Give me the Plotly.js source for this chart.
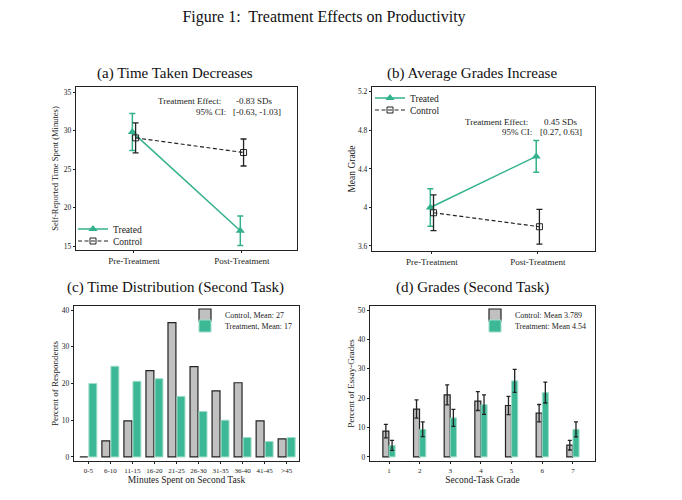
<!DOCTYPE html>
<html>
<head>
<meta charset="utf-8">
<script src="https://cdn.plot.ly/plotly-3.0.1.min.js"></script>
<style>
  html, body { margin: 0; padding: 0; background: #fff; }
  #chart { width: 682px; height: 500px; }
</style>
</head>
<body>
<div id="chart"></div>
<script>
// (a) time taken, (b) mean grade
var phases = ['Pre-Treatment', 'Post-Treatment'];
var timeTreated = [29.8, 17.0];
var timeTreatedErr = [2.4, 1.9];
var timeControl = [29.05, 27.15];
var timeControlErr = [1.95, 1.75];
var gradeTreated = [4.0, 4.53];
var gradeTreatedErr = [0.195, 0.165];
var gradeControl = [3.945, 3.80];
var gradeControlErr = [0.185, 0.18];

// (c) time distribution
var timeBins = ['0-5', '6-10', '11-15', '16-20', '21-25', '26-30', '31-35', '36-40', '41-45', '>45'];
var distControl = [0, 4.4, 9.8, 23.5, 36.6, 24.6, 18.0, 20.2, 9.8, 4.9];
var distTreated = [20.0, 24.7, 20.6, 21.3, 16.5, 12.4, 10.0, 5.3, 4.2, 5.3];

// (d) grades
var grades = [1, 2, 3, 4, 5, 6, 7];
var gradeDistControl = [8.8, 16.3, 21.1, 19.0, 17.5, 14.9, 4.0];
var gradeDistControlErr = [2.3, 3.1, 3.4, 3.2, 3.1, 2.95, 1.65];
var gradeDistTreated = [3.9, 9.4, 13.3, 17.8, 25.9, 21.9, 9.4];
var gradeDistTreatedErr = [1.7, 2.5, 2.9, 3.3, 3.9, 3.55, 2.55];

var teal = '#33b18d';
var tealFill = '#3db896';
var grayFill = '#c0c0c0';
var serif = 'Liberation Serif, Times New Roman, serif';

function px(x) { return x / 682; }
function py(y) { return 1 - y / 500; }

var phasePos = phases.map(function (p, i) { return i; });
var dodge = 0.015;

var traces = [
  // (a)
  {
    type: 'scatter', mode: 'lines+markers', name: 'Treated',
    x: phasePos.map(function (p) { return p - dodge; }), y: timeTreated,
    error_y: { type: 'data', array: timeTreatedErr, color: teal, thickness: 1.5, width: 3 },
    line: { color: teal, width: 1.5 },
    marker: { symbol: 'triangle-up', size: 8, color: teal },
    xaxis: 'x', yaxis: 'y', legend: 'legend'
  },
  {
    type: 'scatter', mode: 'lines+markers', name: 'Control',
    x: phasePos.map(function (p) { return p + dodge; }), y: timeControl,
    error_y: { type: 'data', array: timeControlErr, color: '#222', thickness: 1.3, width: 3 },
    line: { color: '#222', width: 1.2, dash: '4px,2.5px' },
    marker: { symbol: 'square-open', size: 6, color: '#222', line: { width: 1 } },
    xaxis: 'x', yaxis: 'y', legend: 'legend2'
  },
  // (b)
  {
    type: 'scatter', mode: 'lines+markers', name: 'Treated',
    x: phasePos.map(function (p) { return p - dodge; }), y: gradeTreated,
    error_y: { type: 'data', array: gradeTreatedErr, color: teal, thickness: 1.5, width: 3 },
    line: { color: teal, width: 1.5 },
    marker: { symbol: 'triangle-up', size: 8, color: teal },
    xaxis: 'x2', yaxis: 'y2', legend: 'legend3'
  },
  {
    type: 'scatter', mode: 'lines+markers', name: 'Control',
    x: phasePos.map(function (p) { return p + dodge; }), y: gradeControl,
    error_y: { type: 'data', array: gradeControlErr, color: '#222', thickness: 1.3, width: 3 },
    line: { color: '#222', width: 1.2, dash: '4px,2.5px' },
    marker: { symbol: 'square-open', size: 6, color: '#222', line: { width: 1 } },
    xaxis: 'x2', yaxis: 'y2', legend: 'legend4'
  },
  // (c)
  {
    type: 'bar', name: 'Control, Mean: 27', x: timeBins, y: distControl,
    offset: -0.385, width: 0.36,
    marker: { color: grayFill, line: { color: '#222', width: 1.2 } },
    xaxis: 'x3', yaxis: 'y3', legend: 'legend5'
  },
  {
    type: 'bar', name: 'Treatment, Mean: 17', x: timeBins, y: distTreated,
    offset: 0.025, width: 0.36,
    marker: { color: tealFill, line: { color: '#9fdcc9', width: 1 } },
    xaxis: 'x3', yaxis: 'y3', legend: 'legend6'
  },
  // (d)
  {
    type: 'bar', name: 'Control: Mean 3.789', x: grades, y: gradeDistControl,
    offset: -0.2, width: 0.195,
    error_y: { type: 'data', array: gradeDistControlErr, color: '#222', thickness: 1.3, width: 2 },
    marker: { color: grayFill, line: { color: '#222', width: 1.2 } },
    xaxis: 'x4', yaxis: 'y4', legend: 'legend7'
  },
  {
    type: 'bar', name: 'Treatment: Mean 4.54', x: grades, y: gradeDistTreated,
    offset: 0, width: 0.2,
    error_y: { type: 'data', array: gradeDistTreatedErr, color: '#222', thickness: 1.3, width: 2 },
    marker: { color: tealFill, line: { color: '#9fdcc9', width: 1 } },
    xaxis: 'x4', yaxis: 'y4', legend: 'legend8'
  }
];

function axis(extra) {
  var a = {
    showline: true, mirror: true, linecolor: '#222', linewidth: 1.2,
    ticks: 'outside', ticklen: 2, tickwidth: 1, tickcolor: '#222',
    showgrid: false, zeroline: false, fixedrange: true,
    tickfont: { family: serif, size: 7.5, color: '#222' }
  };
  for (var k in extra) { a[k] = extra[k]; }
  return a;
}

function legendAt(x, y, size) {
  return {
    x: px(x), y: py(y), xanchor: 'left', yanchor: 'middle',
    bgcolor: 'rgba(0,0,0,0)', borderwidth: 0, itemwidth: 30,
    font: { family: serif, size: size, color: '#222' }
  };
}

function note(text, x, y, anchor) {
  return {
    text: text, xref: 'paper', yref: 'paper', x: px(x), y: py(y),
    xanchor: anchor, yanchor: 'middle', showarrow: false,
    font: { family: serif, size: 9, color: '#222' }
  };
}

function subtitle(text, x, y) {
  return {
    text: text, xref: 'paper', yref: 'paper', x: px(x), y: py(y),
    xanchor: 'center', yanchor: 'middle', showarrow: false,
    font: { family: serif, size: 15, color: '#111' }
  };
}

var layout = {
  width: 682, height: 500,
  margin: { l: 0, r: 0, t: 0, b: 0 },
  paper_bgcolor: '#fff', plot_bgcolor: '#fff',
  barmode: 'overlay',
  showlegend: true,
  font: { family: serif, color: '#222' },
  title: {
    text: 'Figure 1:  Treatment Effects on Productivity',
    x: px(324), y: py(16), xanchor: 'center', yanchor: 'middle',
    font: { family: serif, size: 16, color: '#111' }
  },
  xaxis: axis({
    domain: [px(76), px(297)], anchor: 'y', range: [-0.537, 1.51],
    tickvals: phasePos, ticktext: phases, tickfont: { family: serif, size: 9, color: '#222' }
  }),
  yaxis: axis({
    domain: [py(250), py(87)], anchor: 'x', range: [14.5, 35.65], dtick: 5,
    title: { text: 'Self-Reported Time Spent (Minutes)', font: { family: serif, size: 8.5 }, standoff: 3 }
  }),
  xaxis2: axis({
    domain: [px(372), px(595)], anchor: 'y2', range: [-0.566, 1.54],
    tickvals: phasePos, ticktext: phases, tickfont: { family: serif, size: 9, color: '#222' }
  }),
  yaxis2: axis({
    domain: [py(251), py(87)], anchor: 'x2', range: [3.548, 5.25],
    tickvals: [3.6, 4, 4.4, 4.8, 5.2], ticktext: ['3.6', '4', '4.4', '4.8', '5.2'],
    title: { text: 'Mean Grade', font: { family: serif, size: 9.5 }, standoff: 0 }
  }),
  xaxis3: axis({
    domain: [px(74), px(299)], anchor: 'y3', range: [-0.65, 9.56], type: 'category',
    tickfont: { family: serif, size: 7, color: '#222' },
    title: { text: 'Minutes Spent on Second Task', font: { family: serif, size: 9.5 }, standoff: 2 }
  }),
  yaxis3: axis({
    domain: [py(461), py(306)], anchor: 'x3', range: [-1.1, 41.1], dtick: 10,
    title: { text: 'Percent of Respondents', font: { family: serif, size: 9 }, standoff: 1 }
  }),
  xaxis4: axis({
    domain: [px(370), px(595)], anchor: 'y4', range: [0.38, 7.72], dtick: 1,
    tickfont: { family: serif, size: 7, color: '#222' },
    title: { text: 'Second-Task Grade', font: { family: serif, size: 9.5 }, standoff: 2 }
  }),
  yaxis4: axis({
    domain: [py(461), py(306)], anchor: 'x4', range: [-1.4, 51.4], dtick: 10,
    title: { text: 'Percent of Essay-Grades', font: { family: serif, size: 9 }, standoff: 1 }
  }),
  legend: legendAt(73, 229, 9.5),
  legend2: legendAt(73, 241, 9.5),
  legend3: legendAt(370, 98, 9.5),
  legend4: legendAt(370, 110, 9.5),
  legend5: legendAt(185, 315, 8),
  legend6: legendAt(185, 326, 8),
  legend7: legendAt(475, 315, 8),
  legend8: legendAt(475, 326, 8),
  annotations: [
    subtitle('(a) Time Taken Decreases', 175, 73),
    subtitle('(b) Average Grades Increase', 472, 73),
    subtitle('(c) Time Distribution (Second Task)', 175, 287),
    subtitle('(d) Grades (Second Task)', 472, 287),
    note('Treatment Effect:', 223, 101, 'right'),
    note('-0.83 SDs', 234, 101, 'left'),
    note('95% CI:', 228, 112, 'right'),
    note('[-0.63, -1.03]', 231, 112, 'left'),
    note('Treatment Effect:', 530, 122, 'right'),
    note('0.45 SDs', 542, 122, 'left'),
    note('95% CI:', 534, 132, 'right'),
    note('[0.27, 0.63]', 538, 132, 'left')
  ]
};

Plotly.newPlot('chart', traces, layout, { displayModeBar: false, staticPlot: true });
</script>
</body>
</html>
